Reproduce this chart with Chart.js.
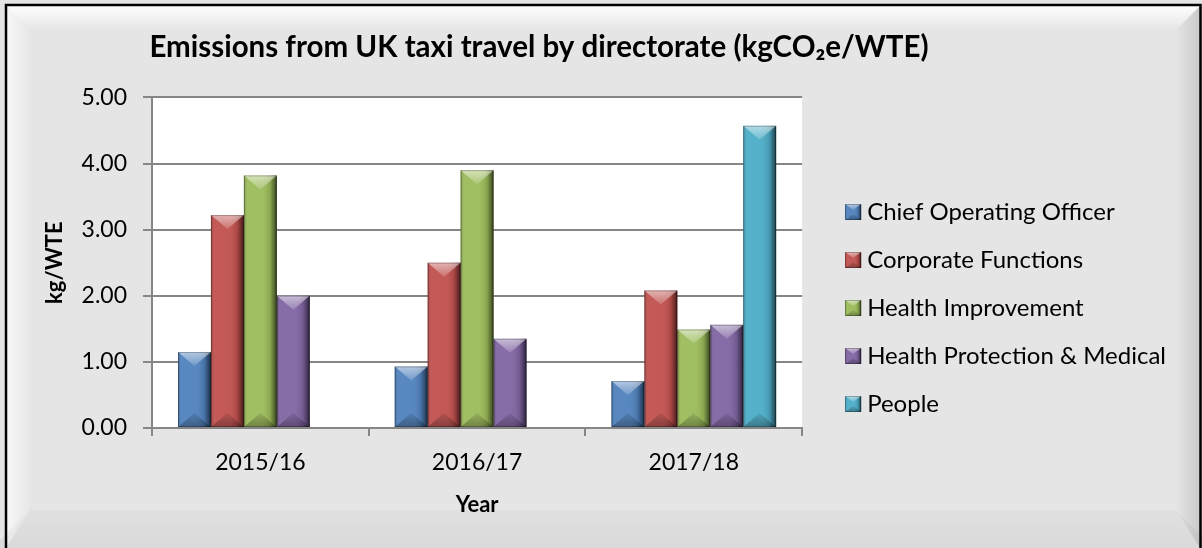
<!DOCTYPE html>
<html>
<head>
<meta charset="utf-8">
<script src="https://cdn.jsdelivr.net/npm/chart.js@4/dist/chart.umd.min.js"></script>
<style>
html,body{margin:0;padding:0;background:#e5e5e5;}
#wrap{width:1202px;height:548px;position:relative;}
</style>
</head>
<body>
<div id="wrap"><canvas id="c" width="1202" height="548"></canvas></div>
<script>
// ---- data ----
const years = ['2015/16', '2016/17', '2017/18'];
const seriesNames = ['Chief Operating Officer', 'Corporate Functions', 'Health Improvement', 'Health Protection & Medical', 'People'];
const chiefOperatingOfficer = [1.15, 0.93, 0.71];
const corporateFunctions = [3.22, 2.50, 2.08];
const healthImprovement = [3.82, 3.90, 1.49];
const healthProtectionMedical = [2.00, 1.35, 1.56];
const people = [null, null, 4.57];
const yMin = 0, yMax = 5, yStep = 1;
const titleText = 'Emissions from UK taxi travel by directorate (kgCO\u2082e/WTE)';
const yTitle = 'kg/WTE';
const xTitle = 'Year';

const colors = ['#4f81bd', '#c0504d', '#9bbb59', '#8064a2', '#4bacc6'];
const seriesValues = [chiefOperatingOfficer, corporateFunctions, healthImprovement, healthProtectionMedical, people];

const FONT = 'Lato, "Open Sans", sans-serif';

function drawBevel(ctx, l, t, r, b, dMax) {
  const h = b - t; if (h <= 0) return;
  const cx = (l + r) / 2;
  const d = Math.min(dMax, h / 2);
  let g = ctx.createLinearGradient(l, 0, r, 0);
  g.addColorStop(0, 'rgba(0,0,0,0.22)');
  g.addColorStop(0.12, 'rgba(255,255,255,0.06)');
  g.addColorStop(0.55, 'rgba(255,255,255,0.05)');
  g.addColorStop(0.8, 'rgba(0,0,0,0.12)');
  g.addColorStop(0.93, 'rgba(0,0,0,0.45)');
  g.addColorStop(1, 'rgba(0,0,0,0.7)');
  ctx.fillStyle = g;
  ctx.fillRect(l, t, r - l, h);
  g = ctx.createLinearGradient(0, t, 0, t + d);
  g.addColorStop(0, 'rgba(255,255,255,0.55)');
  g.addColorStop(1, 'rgba(255,255,255,0.15)');
  ctx.fillStyle = g;
  ctx.beginPath(); ctx.moveTo(l, t); ctx.lineTo(r, t); ctx.lineTo(cx, t + d); ctx.closePath(); ctx.fill();
  g = ctx.createLinearGradient(0, b - d, 0, b);
  g.addColorStop(0, 'rgba(0,0,0,0.08)');
  g.addColorStop(1, 'rgba(0,0,0,0.3)');
  ctx.fillStyle = g;
  ctx.beginPath(); ctx.moveTo(l, b); ctx.lineTo(r, b); ctx.lineTo(cx, b - d); ctx.closePath(); ctx.fill();
  ctx.strokeStyle = 'rgba(0,0,0,0.25)';
  ctx.lineWidth = 1;
  ctx.strokeRect(l + 0.5, t + 0.5, r - l - 1, h - 1);
}

const bgPlugin = {
  id: 'bg',
  beforeDraw(chart) {
    const ctx = chart.ctx, W = chart.width, H = chart.height;
    ctx.save();
    ctx.fillStyle = '#e5e5e5';
    ctx.fillRect(0, 0, W, H);
    let g = ctx.createLinearGradient(0, 6, 0, 30);
    g.addColorStop(0, 'rgba(255,255,255,0.95)');
    g.addColorStop(1, 'rgba(255,255,255,0)');
    ctx.fillStyle = g;
    ctx.beginPath(); ctx.moveTo(6, 6); ctx.lineTo(1200, 6); ctx.lineTo(1176, 30); ctx.lineTo(30, 30); ctx.closePath(); ctx.fill();
    g = ctx.createLinearGradient(6, 0, 30, 0);
    g.addColorStop(0, 'rgba(255,255,255,0.7)');
    g.addColorStop(1, 'rgba(255,255,255,0.1)');
    ctx.fillStyle = g;
    ctx.beginPath(); ctx.moveTo(6, 6); ctx.lineTo(30, 30); ctx.lineTo(30, 510); ctx.lineTo(6, 548); ctx.closePath(); ctx.fill();
    g = ctx.createLinearGradient(1176, 0, 1200, 0);
    g.addColorStop(0, 'rgba(0,0,0,0)');
    g.addColorStop(1, 'rgba(0,0,0,0.12)');
    ctx.fillStyle = g;
    ctx.beginPath(); ctx.moveTo(1200, 6); ctx.lineTo(1176, 30); ctx.lineTo(1176, 510); ctx.lineTo(1200, 548); ctx.closePath(); ctx.fill();
    g = ctx.createLinearGradient(0, 510, 0, 548);
    g.addColorStop(0, 'rgba(0,0,0,0.02)');
    g.addColorStop(1, 'rgba(0,0,0,0.05)');
    ctx.fillStyle = g;
    ctx.beginPath(); ctx.moveTo(30, 510); ctx.lineTo(1176, 510); ctx.lineTo(1214, 548); ctx.lineTo(-8, 548); ctx.closePath(); ctx.fill();
    ctx.strokeStyle = '#000';
    ctx.lineWidth = 2.5;
    ctx.beginPath(); ctx.moveTo(6, 560); ctx.lineTo(6, 5); ctx.lineTo(1200.5, 5); ctx.lineTo(1200.5, 560); ctx.stroke();
    const a = chart.chartArea;
    ctx.fillStyle = '#ffffff';
    ctx.fillRect(a.left, a.top, a.right - a.left, a.bottom - a.top);
    ctx.restore();
  },
  afterLayout(chart) {
    const t = chart.titleBlock;
    if (t) { t.left = 120; t.right = 958; }
  },
  afterDraw(chart) {
    const lg = chart.legend;
    if (!lg || !lg.legendHitBoxes) return;
    const ctx = chart.ctx;
    ctx.save();
    lg.legendHitBoxes.forEach((hb, i) => {
      const t = hb.top + (hb.height - 16) / 2;
      ctx.fillStyle = colors[i];
      ctx.fillRect(hb.left, t, 16, 16);
      drawBevel(ctx, hb.left, t, hb.left + 16, t + 16, 6);
    });
    ctx.restore();
  }
};

const bevelPlugin = {
  id: 'bevel',
  afterDatasetsDraw(chart) {
    const ctx = chart.ctx;
    ctx.save();
    chart.data.datasets.forEach((ds, di) => {
      const meta = chart.getDatasetMeta(di);
      meta.data.forEach((bar, i) => {
        if (ds.data[i] == null) return;
        const p = bar.getProps(['x', 'y', 'base', 'width'], true);
        drawBevel(ctx, p.x - p.width / 2, p.y, p.x + p.width / 2, p.base, 14);
      });
    });
    ctx.restore();
  }
};

const datasets = seriesNames.map((name, i) => ({
  label: name,
  data: seriesValues[i],
  backgroundColor: colors[i],
  borderWidth: 0,
  categoryPercentage: 0.76,
  barPercentage: 1.0
}));

new Chart(document.getElementById('c'), {
  type: 'bar',
  data: { labels: years, datasets },
  plugins: [bgPlugin, bevelPlugin],
  options: {
    responsive: false,
    animation: false,
    devicePixelRatio: 1,
    layout: { padding: { left: 24, right: 26, top: 30, bottom: 20 } },
    plugins: {
      title: {
        display: true,
        text: titleText,
        color: '#000',
        font: { family: FONT, size: 29.5, weight: 'bold', lineHeight: 1.2 },
        padding: { top: 0, bottom: 32 }
      },
      legend: {
        position: 'right',
        align: 'center',
        maxWidth: 420,
        title: { display: true, text: '', font: { size: 1, lineHeight: 1 }, padding: { top: 57, bottom: 0 } },
        labels: {
          color: '#000',
          font: { family: FONT, size: 24 },
          boxWidth: 10,
          boxHeight: 16,
          padding: 24
        }
      },
      tooltip: { enabled: false }
    },
    scales: {
      x: {
        grid: { display: true, drawOnChartArea: false, drawTicks: true, tickLength: 8, color: '#868686', lineWidth: 2, offset: true },
        border: { display: true, color: '#868686', width: 2 },
        ticks: { color: '#000', font: { family: FONT, size: 23 }, padding: 13 },
        title: { display: true, text: xTitle, color: '#000', font: { family: FONT, size: 22, weight: 'bold', lineHeight: 1.2 }, padding: { top: 4, bottom: 10 } },
        afterFit(s) { s.height = 100; }
      },
      y: {
        min: yMin, max: yMax,
        grid: { color: '#868686', lineWidth: 2, tickLength: 9 },
        border: { display: true, color: '#868686', width: 2 },
        ticks: { stepSize: yStep, color: '#000', font: { family: FONT, size: 23 }, padding: 16, callback: v => Number(v).toFixed(2) },
        title: { display: true, text: yTitle, color: '#000', font: { family: FONT, size: 22, weight: 'bold', lineHeight: 1.0 }, padding: { top: 20, bottom: 0 } },
        afterFit(s) { s.width = 128; }
      },
      y2: {
        position: 'right', display: true,
        grid: { display: false, drawTicks: false },
        border: { display: false },
        ticks: { display: false },
        afterFit(s) { s.width = 19; }
      }
    }
  }
});
</script>
</body>
</html>
